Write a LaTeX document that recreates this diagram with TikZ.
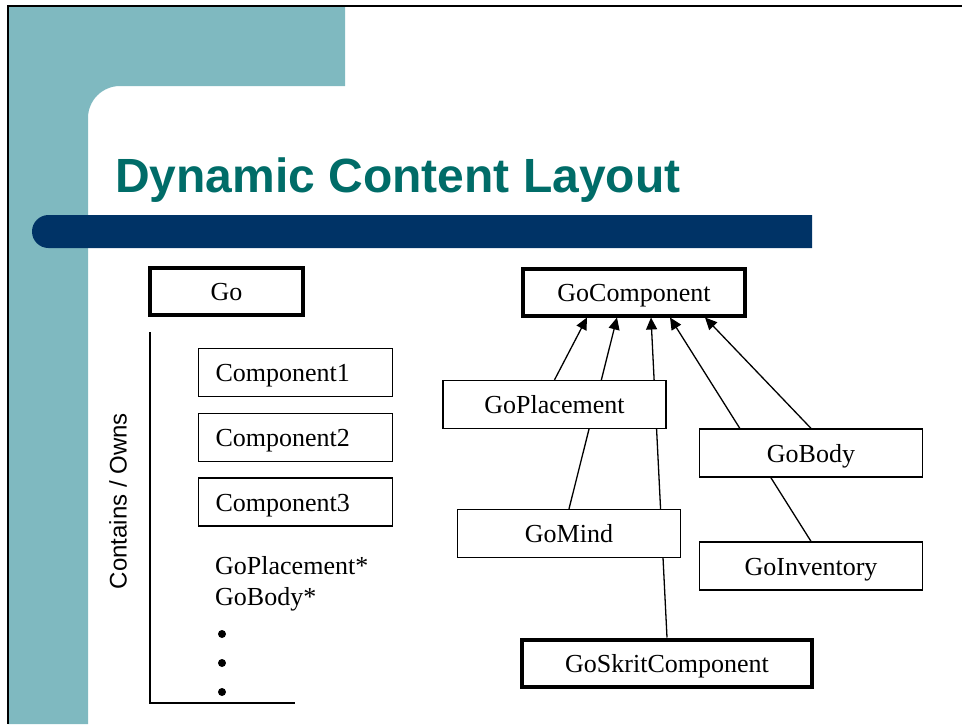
\documentclass[tikz,border=0pt]{standalone}
\usepackage{fontspec}
\setmainfont{Liberation Serif}
\newfontfamily\slidesans{Liberation Sans}
\usetikzlibrary{arrows.meta}
\pgfdeclarelayer{backdrop}
\pgfdeclarelayer{edges}
\pgfsetlayers{backdrop,edges,main}
\definecolor{slideTeal}{RGB}{127,185,192}
\definecolor{titleTeal}{RGB}{0,108,104}
\definecolor{barBlue}{RGB}{0,51,102}

\begin{document}
\begin{tikzpicture}
[x=1pt,y=-1pt,
  classBox/.style={shape=rectangle,draw,line width=1.3pt,fill=white,inner sep=0pt,%
    text height=18pt,text depth=0pt,minimum height=48pt,font=\fontsize{26}{30}\selectfont},%
  rootBox/.style={classBox,line width=4pt,minimum height=47pt},%
  ownedBox/.style={classBox,text width=160pt,inner xsep=17pt,align=left},%
  inheritArrow/.style={-{Triangle[length=12pt,width=11pt]},line width=1.3pt},%
  plainText/.style={anchor=base west,inner sep=0pt,font=\fontsize{26}{30}\selectfont},%
  dotDecorate/.style={shape=circle,fill,inner sep=0pt,minimum size=8pt}]
\useasboundingbox (0,0) rectangle (962,724);
%% slide background
\begin{pgfonlayer}{backdrop}
\fill[slideTeal] (8,6) -- (345,6) -- (345,86) -- (120,86)
  .. controls (102.3,86) and (88,100.3) .. (88,118) -- (88,724) -- (8,724) -- cycle;
\fill[barBlue] (812,215) -- (48.5,215) .. controls (39.4,215) and (32,222.4) .. (32,231.5)
  .. controls (32,240.6) and (39.4,248) .. (48.5,248) -- (812,248) -- cycle;
\draw[line width=2pt] (8,724) -- (8,6) -- (962,6);
\end{pgfonlayer}
\node (title) at (115,192) [anchor=base west,inner sep=0pt,text=titleTeal,%
  font=\slidesans\bfseries\fontsize{48}{56}\selectfont] {Dynamic Content Layout};
%% left: what Go owns
\node (go) at (226.5,291.5) [rootBox,minimum width=153pt] {Go};
\foreach \nodename/\y/\txt in {compA/372.5/Component1, compB/437.5/Component2, compC/502/Component3}
{
  \node (\nodename) at (295.5,\y) [ownedBox] {\txt};
}
\node (ownPlacement) at (215,574) [plainText] {GoPlacement*};
\node (ownBody) at (215,605) [plainText] {GoBody*};
\foreach \i/\y in {1/634, 2/663, 3/692}
{
  \node (dot\i) at (222,\y) [dotDecorate] {};
}
\node (owns) at (118,501) [rotate=90,font=\slidesans\fontsize{24}{28}\selectfont] {Contains / Owns};
\draw[line width=1.3pt] (150,332) -- (150,703) -- (295,703);
%% right: class hierarchy
\node (comp) at (634,292) [rootBox,minimum width=222pt] {GoComponent};
\node (skrit) at (667,663) [rootBox,minimum width=290pt] {GoSkritComponent};
\foreach \nodename/\x/\y/\txt in {placement/554.5/404.5/GoPlacement, body/811/453/GoBody,
  mind/569/533.5/GoMind, inventory/811/566/GoInventory}
{
  \node (\nodename) at (\x,\y) [classBox,minimum width=223pt] {\txt};
}
%% inheritance edges (behind the boxes)
\begin{pgfonlayer}{edges}
\path
\foreach \startnode/\dx in {placement/-47, mind/-17, skrit/17, inventory/36, body/71}
{
  (\startnode.north) edge[inheritArrow] ([xshift=\dx pt]comp.south)
};
\end{pgfonlayer}
\end{tikzpicture}
\end{document}
